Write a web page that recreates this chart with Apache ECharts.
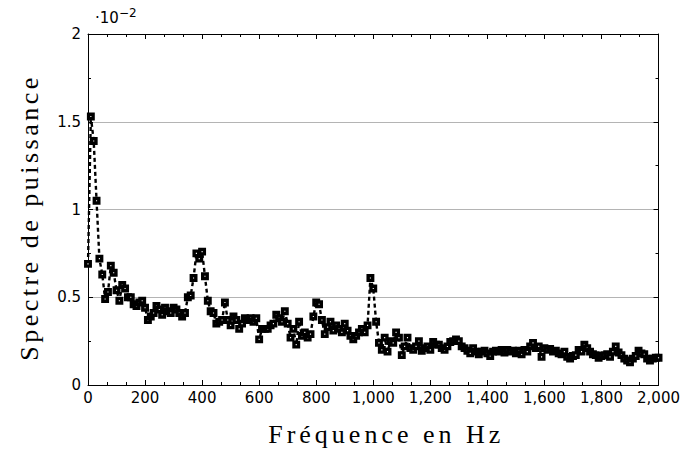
<!DOCTYPE html>
<html>
<head>
<meta charset="utf-8">
<script src="https://cdn.jsdelivr.net/npm/echarts@6/dist/echarts.min.js"></script>
<style>
html,body{margin:0;padding:0;background:#fff;}
#chart{width:683px;height:452px;}
</style>
</head>
<body>
<div id="chart"></div>
<script>
// Frequency grid step (Hz) and power spectrum values (units of 10^-2)
const freqStep = 10;
const spectrum = [
  0.69, 1.53, 1.39, 1.05, 0.72, 0.63, 0.49, 0.53, 0.68, 0.64,
  0.54, 0.48, 0.57, 0.55, 0.50, 0.50, 0.46, 0.45, 0.47, 0.48,
  0.44, 0.37, 0.39, 0.41, 0.45, 0.43, 0.40, 0.44, 0.42, 0.41,
  0.44, 0.43, 0.41, 0.39, 0.41, 0.50, 0.51, 0.61, 0.75, 0.72,
  0.76, 0.62, 0.48, 0.42, 0.41, 0.35, 0.36, 0.37, 0.47, 0.37,
  0.34, 0.39, 0.37, 0.32, 0.35, 0.38, 0.37, 0.38, 0.36, 0.38,
  0.26, 0.32, 0.32, 0.32, 0.34, 0.35, 0.40, 0.38, 0.36, 0.42,
  0.35, 0.27, 0.32, 0.23, 0.36, 0.28, 0.30, 0.27, 0.29, 0.39,
  0.47, 0.46, 0.37, 0.29, 0.33, 0.36, 0.31, 0.34, 0.32, 0.30,
  0.35, 0.31, 0.28, 0.26, 0.28, 0.30, 0.32, 0.30, 0.34, 0.61,
  0.55, 0.36, 0.24, 0.20, 0.27, 0.19, 0.25, 0.24, 0.30, 0.27,
  0.17, 0.22, 0.27, 0.21, 0.20, 0.22, 0.25, 0.195, 0.21, 0.22,
  0.20, 0.245, 0.23, 0.23, 0.21, 0.20, 0.22, 0.245, 0.25, 0.26,
  0.25, 0.22, 0.21, 0.195, 0.18, 0.21, 0.19, 0.175, 0.19, 0.195,
  0.18, 0.165, 0.19, 0.195, 0.19, 0.20, 0.185, 0.20, 0.19, 0.195,
  0.18, 0.195, 0.175, 0.20, 0.19, 0.22, 0.24, 0.21, 0.22, 0.16,
  0.21, 0.20, 0.205, 0.19, 0.195, 0.18, 0.175, 0.19, 0.16, 0.15,
  0.165, 0.17, 0.20, 0.19, 0.23, 0.21, 0.19, 0.175, 0.17, 0.155,
  0.165, 0.17, 0.175, 0.16, 0.19, 0.22, 0.185, 0.17, 0.15, 0.14,
  0.13, 0.15, 0.165, 0.195, 0.18, 0.175, 0.15, 0.14, 0.15, 0.155,
  0.155
];
const xTitle = 'Fréquence en Hz';
const yTitle = 'Spectre de puissance';
const scaleLabel = '·10';
const scaleExp = '−2';

const seriesData = spectrum.map((v, i) => [i * freqStep, v]);

const labelFont = '"DejaVu Sans", sans-serif';
const titleFont = '"Liberation Serif", "Times New Roman", serif';

const baseX = {
  type: 'value', min: 0, max: 2000, interval: 200,
  axisLine: { show: true, onZero: false, lineStyle: { color: '#000', width: 1 } },
  axisTick: { show: true, inside: true, length: 5, lineStyle: { color: '#000', width: 1 } },
  minorTick: { show: true, splitNumber: 3, length: 3, lineStyle: { color: '#000', width: 1 } },
  splitLine: { show: false },
  minorSplitLine: { show: false }
};
const baseY = {
  type: 'value', min: 0, max: 2, interval: 0.5,
  axisLine: { show: true, onZero: false, lineStyle: { color: '#000', width: 1 } },
  axisTick: { show: true, inside: true, length: 5, lineStyle: { color: '#000', width: 1 } },
  minorTick: { show: true, splitNumber: 2, length: 3, lineStyle: { color: '#000', width: 1 } },
  minorSplitLine: { show: false }
};

const chart = echarts.init(document.getElementById('chart'), null, { renderer: 'svg' });
chart.setOption({
  animation: false,
  backgroundColor: '#fff',
  grid: { left: 88, right: 19, top: 34, bottom: 66, containLabel: false },
  xAxis: [
    Object.assign({}, baseX, {
      position: 'bottom',
      axisLabel: { show: true, margin: 5, color: '#000', fontSize: 15, fontFamily: labelFont },
      name: xTitle, nameLocation: 'middle', nameGap: 36,
      nameTextStyle: { color: '#000', fontSize: 26, fontFamily: titleFont, padding: [0, 0, 0, 26] }
    }),
    Object.assign({}, baseX, { position: 'top', axisLabel: { show: false } })
  ],
  yAxis: [
    Object.assign({}, baseY, {
      position: 'left',
      axisLabel: { show: true, margin: 7, color: '#000', fontSize: 15, fontFamily: labelFont },
      splitLine: { show: true, lineStyle: { color: '#b4b4b4', width: 1 } },
      name: yTitle, nameLocation: 'middle', nameGap: 46,
      nameTextStyle: { color: '#000', fontSize: 26, fontFamily: titleFont, padding: [0, 16, 0, 0] }
    }),
    Object.assign({}, baseY, { position: 'right', axisLabel: { show: false }, splitLine: { show: false } })
  ],
  graphic: [
    { type: 'text', left: 95, top: 10, style: { text: scaleLabel, fill: '#000', font: '15px ' + labelFont } },
    { type: 'text', left: 119, top: 7, style: { text: scaleExp, fill: '#000', font: '12px ' + labelFont } }
  ],
  series: [{
    type: 'line',
    xAxisIndex: 0, yAxisIndex: 0,
    data: seriesData,
    showAllSymbol: true,
    symbol: 'rect',
    symbolSize: 4.5,
    itemStyle: { color: '#fff', borderColor: '#000', borderWidth: 3.4 },
    lineStyle: { color: '#000', width: 2.4, type: [4, 3] },
    emphasis: { disabled: true }
  }]
});

// letter spacing for the serif axis titles
document.querySelectorAll('#chart text').forEach(t => {
  const s = t.textContent;
  if (s === xTitle) t.setAttribute('letter-spacing', '4px');
  if (s === yTitle) t.setAttribute('letter-spacing', '3.5px');
});
</script>
</body>
</html>
